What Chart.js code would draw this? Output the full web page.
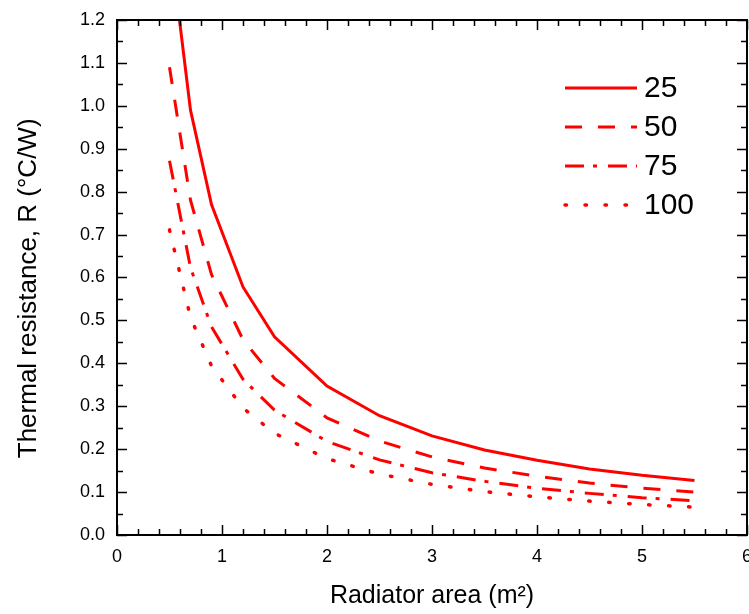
<!DOCTYPE html>
<html>
<head>
<meta charset="utf-8">
<script src="https://cdn.jsdelivr.net/npm/chart.js@4.4.0/dist/chart.umd.min.js"></script>
<style>
  body { margin: 0; background: #fff; }
  canvas { display: block; }
</style>
</head>
<body>
<canvas id="resistanceChart" width="749" height="614"></canvas>
<script>
// Radiator area (m2)
const areas = [0.5, 0.7, 0.9, 1.2, 1.5, 2, 2.5, 3, 3.5, 4, 4.5, 5, 5.5];

// Thermal resistance (oC/W), one array per series
const r25 = [1.39, 0.99, 0.77, 0.578, 0.462, 0.347, 0.278, 0.231, 0.198, 0.174, 0.154, 0.139, 0.127];
const r50 = [1.09, 0.78, 0.607, 0.455, 0.365, 0.273, 0.219, 0.182, 0.156, 0.137, 0.121, 0.109, 0.100];
const r75 = [0.872, 0.623, 0.485, 0.363, 0.291, 0.218, 0.175, 0.145, 0.125, 0.109, 0.097, 0.087, 0.080];
const r100 = [0.711, 0.507, 0.394, 0.296, 0.237, 0.178, 0.142, 0.118, 0.101, 0.089, 0.079, 0.071, 0.065];

const seriesLabels = ['25', '50', '75', '100'];

const xTickLabels = ['0', '1', '2', '3', '4', '5', '6'];
const yTickLabels = ['0.0', '0.1', '0.2', '0.3', '0.4', '0.5', '0.6', '0.7', '0.8', '0.9', '1.0', '1.1', '1.2'];

function toPoints(ys) {
    return areas.map(function (a, i) { return { x: a, y: ys[i] }; });
}

// frame around the plot with inward major/minor ticks on all sides
const frameTicks = {
    id: 'frameTicks',
    afterDraw(chart) {
        const { ctx, chartArea: a, scales: { x, y } } = chart;
        ctx.save();
        ctx.strokeStyle = '#000';
        ctx.lineWidth = 1.5;
        ctx.beginPath();
        for (let i = 0; i <= 30; i++) {
            const px = Math.round(x.getPixelForValue(i * 0.2)) + 0.5;
            const len = i % 5 === 0 ? 10 : 6;
            ctx.moveTo(px, a.bottom); ctx.lineTo(px, a.bottom - len);
            ctx.moveTo(px, a.top); ctx.lineTo(px, a.top + len);
        }
        for (let i = 0; i <= 24; i++) {
            const py = Math.round(y.getPixelForValue(i * 0.05)) + 0.5;
            const len = i % 2 === 0 ? 10 : 6;
            ctx.moveTo(a.left, py); ctx.lineTo(a.left + len, py);
            ctx.moveTo(a.right, py); ctx.lineTo(a.right - len, py);
        }
        ctx.stroke();
        ctx.lineWidth = 2;
        ctx.strokeRect(a.left, a.top, a.right - a.left, a.bottom - a.top);
        ctx.restore();
    }
};

// legend drawn inside the plot, top right
const insideLegend = {
    id: 'insideLegend',
    afterDraw(chart) {
        const ctx = chart.ctx;
        const x0 = 565, x1 = 637, top = 88, step = 39;
        ctx.save();
        chart.data.datasets.forEach(function (ds, i) {
            const yy = top + i * step;
            ctx.strokeStyle = ds.borderColor;
            ctx.lineWidth = ds.borderWidth;
            ctx.lineCap = ds.borderCapStyle || 'butt';
            ctx.setLineDash(ds.borderDash || []);
            ctx.beginPath();
            ctx.moveTo(x0, yy);
            ctx.lineTo(x1, yy);
            ctx.stroke();
            ctx.setLineDash([]);
            ctx.fillStyle = '#000';
            ctx.font = '30px "Liberation Sans", Arial, sans-serif';
            ctx.textBaseline = 'middle';
            ctx.fillText(ds.label, 644, yy + 1);
        });
        ctx.restore();
    }
};

document.addEventListener('DOMContentLoaded', function () {
    const ctx = document.getElementById('resistanceChart').getContext('2d');
    const red = '#ff0000';

    new Chart(ctx, {
        type: 'line',
        data: {
            datasets: [{
                label: seriesLabels[0],
                data: toPoints(r25),
                borderColor: red,
                borderWidth: 3,
                borderDash: [],
            }, {
                label: seriesLabels[1],
                data: toPoints(r50),
                borderColor: red,
                borderWidth: 3,
                borderDash: [17, 16],
            }, {
                label: seriesLabels[2],
                data: toPoints(r75),
                borderColor: red,
                borderWidth: 3,
                borderDash: [19, 9, 4, 11],
            }, {
                label: seriesLabels[3],
                data: toPoints(r100),
                borderColor: red,
                borderWidth: 3.5,
                borderCapStyle: 'round',
                borderDash: [1.5, 18.5],
            }]
        },
        options: {
            responsive: false,
            animation: false,
            clip: 0,
            elements: { point: { radius: 0 }, line: { tension: 0 } },
            layout: { padding: { top: 20, right: 2, left: 0, bottom: 0 } },
            plugins: {
                legend: { display: false },
                tooltip: { enabled: false }
            },
            scales: {
                x: {
                    type: 'linear',
                    min: 0,
                    max: 6,
                    grid: { display: false, drawTicks: false },
                    border: { display: false },
                    afterBuildTicks: function (scale) {
                        scale.ticks = xTickLabels.map(function (t) { return { value: Number(t) }; });
                    },
                    ticks: {
                        padding: 11,
                        color: '#000',
                        maxRotation: 0,
                        font: { family: '"Liberation Sans", Arial, sans-serif', size: 18 },
                        callback: function (v, i) { return xTickLabels[i]; }
                    },
                    title: {
                        display: true,
                        text: 'Radiator area (m²)',
                        color: '#000',
                        font: { family: '"Liberation Sans", Arial, sans-serif', size: 25 },
                        padding: { top: 0, bottom: 3 }
                    },
                    afterFit: function (scale) {
                        scale.height = 79;
                        scale.paddingLeft = 0;
                        scale.paddingRight = 0;
                    }
                },
                y: {
                    min: 0,
                    max: 1.2,
                    grid: { display: false, drawTicks: false },
                    border: { display: false },
                    afterBuildTicks: function (scale) {
                        scale.ticks = yTickLabels.map(function (t) { return { value: Number(t) }; });
                    },
                    ticks: {
                        padding: 12,
                        color: '#000',
                        font: { family: '"Liberation Sans", Arial, sans-serif', size: 18 },
                        callback: function (v, i) { return yTickLabels[i]; }
                    },
                    title: {
                        display: true,
                        // trailing spaces nudge the rotated title down a little
                        text: 'Thermal resistance, R (°C/W)   ',
                        color: '#000',
                        font: { family: '"Liberation Sans", Arial, sans-serif', size: 26 },
                        padding: { top: 13, bottom: 0 }
                    },
                    afterFit: function (scale) {
                        scale.width = 117;
                        scale.paddingTop = 0;
                        scale.paddingBottom = 0;
                    }
                }
            }
        },
        plugins: [frameTicks, insideLegend]
    });
});
</script>
</body>
</html>
